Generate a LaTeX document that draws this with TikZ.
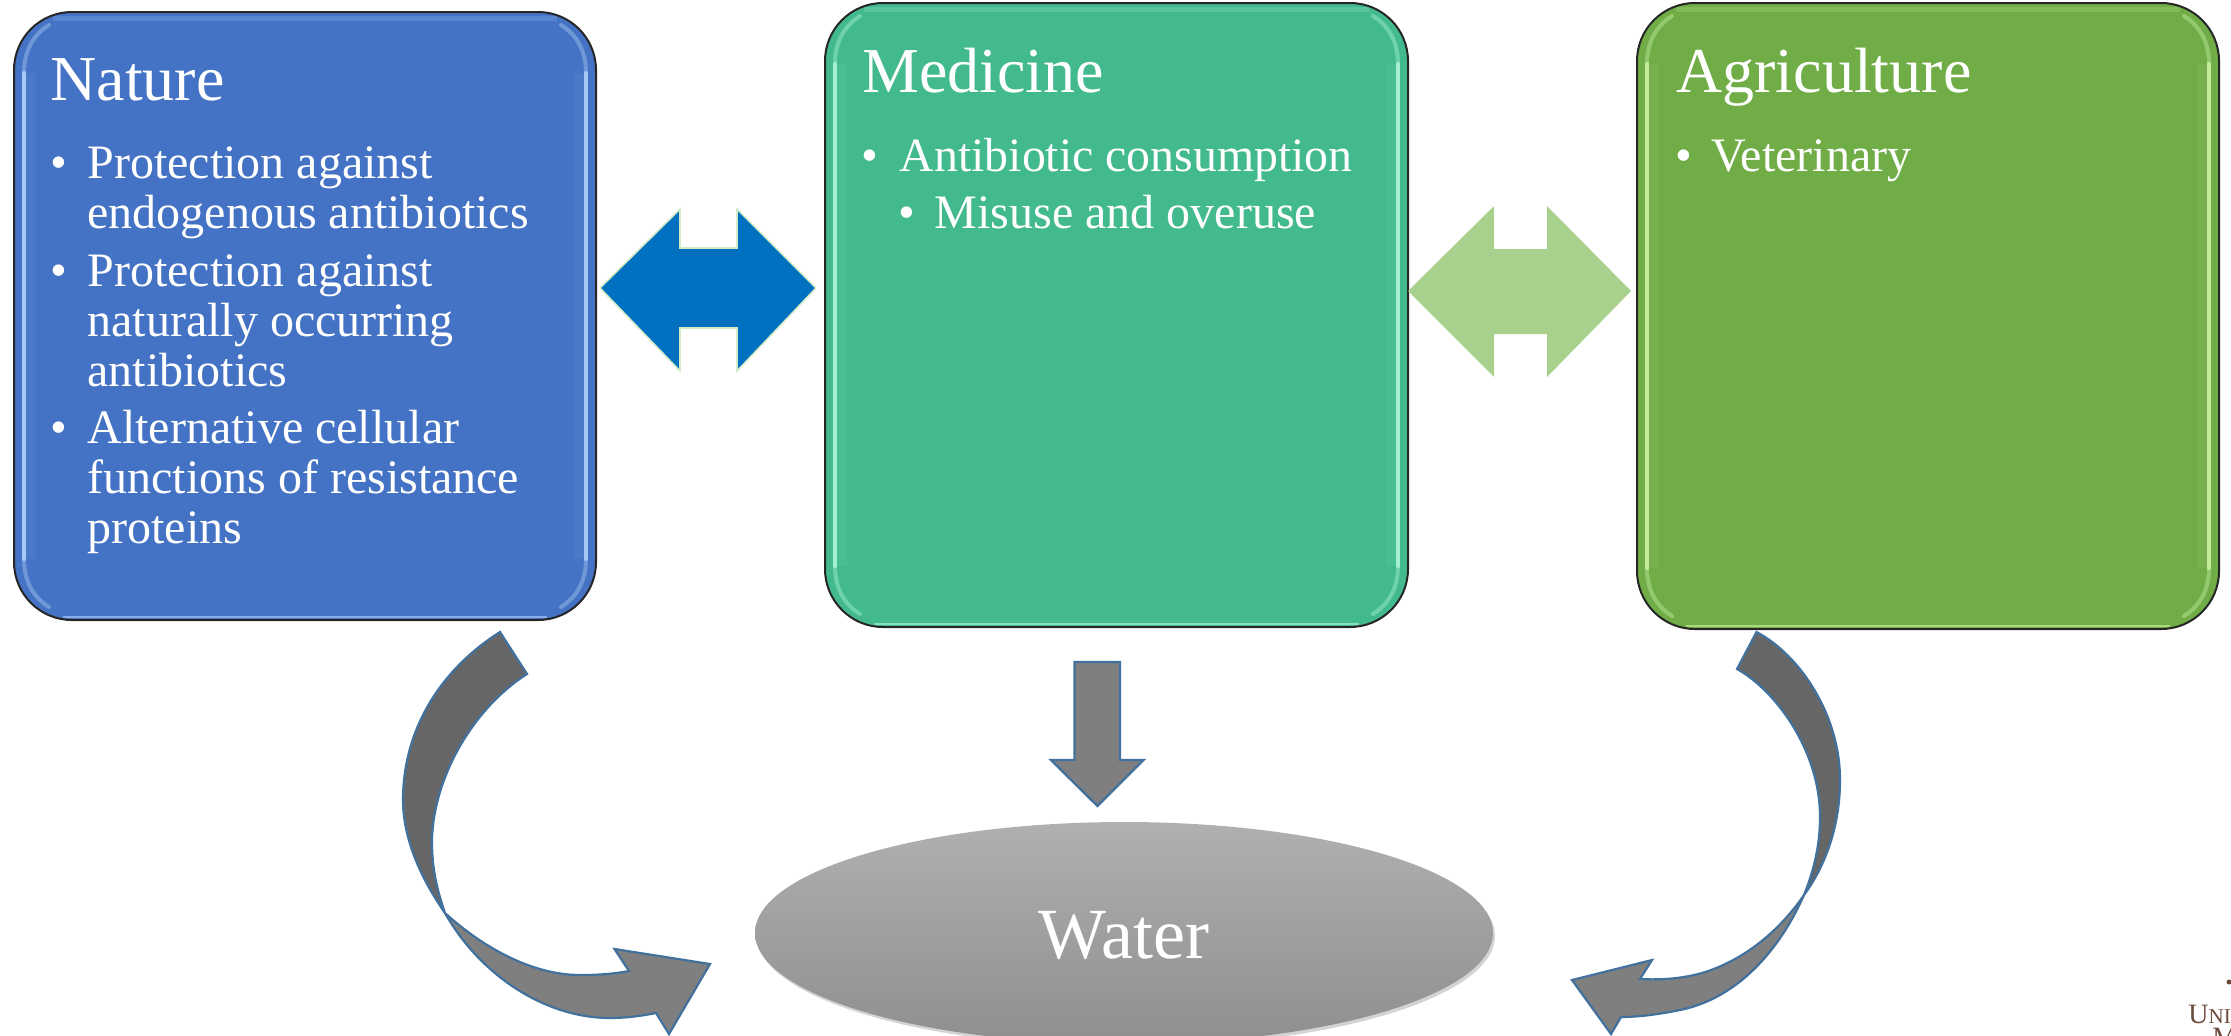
\documentclass[tikz,border=0pt]{standalone}
\usepackage{fontspec}
\setmainfont{Liberation Serif}
\usetikzlibrary{calc,shadows}
\definecolor{natureblue}{HTML}{4472C4}
\definecolor{naturelight}{HTML}{A6C8F4}
\definecolor{medgreen}{HTML}{43BA8E}
\definecolor{medlight}{HTML}{A4F0D4}
\definecolor{agrigreen}{HTML}{70AD47}
\definecolor{agrilight}{HTML}{C4EC9C}
\definecolor{linkblue}{HTML}{0070C0}
\definecolor{linkgreen}{HTML}{A9D18E}
\definecolor{linkedge}{HTML}{D5EBC8}
\definecolor{arrowedge}{HTML}{41719C}
\definecolor{arrowdark}{HTML}{666666}
\definecolor{arrowmid}{HTML}{7F7F7F}
\definecolor{logobrown}{HTML}{6B4A3A}
\tikzset{
  cardbox/.style={rectangle,rounded corners=29pt,draw=black!85,line width=1pt,inner sep=0pt},
  cardtitle/.style={anchor=base west,inner sep=0pt,text=white,font=\fontsize{32}{36}\selectfont},
  carditem/.style={anchor=base west,inner sep=0pt,text=white,align=left,font=\fontsize{24}{25}\selectfont},
  blockarrow/.style={draw=arrowedge,line width=1.2pt,line join=miter,fill=arrowmid},
  curvedark/.style={draw=arrowedge,line width=1.1pt,fill=arrowdark,line join=miter},
  curvemid/.style={draw=arrowedge,line width=1.1pt,fill=arrowmid,line join=miter},
}
\newcommand{\cardbevel}[2]{%
  \draw[#2,line width=2pt,line cap=round] ($(#1.north west)+(11,62)$) -- ($(#1.south west)+(11,-62)$);
  \draw[#2,line width=2pt,line cap=round] ($(#1.north east)+(-11,62)$) -- ($(#1.south east)+(-11,-62)$);
  \draw[#2,line width=5pt,opacity=.08] ($(#1.north west)+(18,62)$) -- ($(#1.south west)+(18,-62)$);
  \draw[#2,line width=5pt,opacity=.08] ($(#1.north east)+(-18,62)$) -- ($(#1.south east)+(-18,-62)$);
  \draw[#2,line width=2pt,opacity=.45,line cap=round] ($(#1.north west)+(11,62)$) .. controls ($(#1.north west)+(11,40)$) and ($(#1.north west)+(20,24)$) .. ($(#1.north west)+(36,14)$);
  \draw[#2,line width=2pt,opacity=.45,line cap=round] ($(#1.north east)+(-11,62)$) .. controls ($(#1.north east)+(-11,40)$) and ($(#1.north east)+(-20,24)$) .. ($(#1.north east)+(-36,14)$);
  \draw[#2,line width=2pt,opacity=.45,line cap=round] ($(#1.south west)+(11,-62)$) .. controls ($(#1.south west)+(11,-40)$) and ($(#1.south west)+(20,-24)$) .. ($(#1.south west)+(36,-14)$);
  \draw[#2,line width=2pt,opacity=.45,line cap=round] ($(#1.south east)+(-11,-62)$) .. controls ($(#1.south east)+(-11,-40)$) and ($(#1.south east)+(-20,-24)$) .. ($(#1.south east)+(-36,-14)$);
  \draw[#2,line width=2.5pt,opacity=.22] ($(#1.north west)+(40,7)$) -- ($(#1.north east)+(-40,7)$);
  \draw[#2,line width=1.2pt,opacity=.7] ($(#1.south west)+(50,-4)$) -- ($(#1.south east)+(-50,-4)$);
}
\begin{document}
\begin{tikzpicture}[x=0.5pt,y=-0.5pt]
\path[use as bounding box] (0,0) rectangle (2231,1035);
\clip (0,0) rectangle (2231,1035);

% cards
\node[cardbox,fill=natureblue,minimum width=291pt,minimum height=304pt] (nature) at (305,316) {};
\node[cardbox,fill=medgreen,minimum width=291.5pt,minimum height=312pt] (medicine) at (1116.5,315) {};
\node[cardbox,fill=agrigreen,minimum width=291pt,minimum height=313pt] (agriculture) at (1928,316) {};
\cardbevel{nature}{naturelight}
\cardbevel{medicine}{medlight}
\cardbevel{agriculture}{agrilight}

% Nature text (a node's base is the baseline of its last line)
\node[cardtitle] (natureT) at (50,100) {Nature};
\node[carditem] (nb1) at (50.5,178) {•};
\node[carditem] (ni1) at (87,228) {Protection against\\endogenous antibiotics};
\node[carditem] (nb2) at (50.5,286) {•};
\node[carditem] (ni2) at (87,386) {Protection against\\naturally occurring\\antibiotics};
\node[carditem] (nb3) at (50.5,443) {•};
\node[carditem] (ni3) at (87,543) {Alternative cellular\\functions of resistance\\proteins};

% Medicine text
\node[cardtitle] (medT) at (862,92) {Medicine};
\node[carditem] (mb1) at (861.5,171) {•};
\node[carditem] (mi1) at (899.5,171) {\fontsize{23.9}{25}\selectfont Antibiotic consumption};
\node[carditem] (mb2) at (898,228.5) {•};
\node[carditem] (mi2) at (934.5,228.5) {Misuse and overuse};

% Agriculture text
\node[cardtitle] (agriT) at (1676,92) {Agriculture};
\node[carditem] (ab1) at (1675,171) {•};
\node[carditem] (ai1) at (1711,171) {Veterinary};

% double arrows between the cards
\path[fill=linkblue,draw=linkedge,line width=.8pt,line join=miter]
  (600,288) -- (680,209) -- (680,248) -- (737,248) -- (737,209) -- (816,288)
  -- (737,371) -- (737,328) -- (680,328) -- (680,371) -- cycle;
\path[fill=linkgreen]
  (1408,291) -- (1494,206) -- (1494,249) -- (1547,249) -- (1547,206) -- (1631,291)
  -- (1547,377) -- (1547,334) -- (1494,334) -- (1494,377) -- cycle;

% water
\shade[top color=black!31,bottom color=black!44,drop shadow={shadow xshift=1pt,shadow yshift=-1.5pt,opacity=.35}]
  (1124,933) ellipse [x radius=369,y radius=111];
\node[anchor=base,inner sep=0pt,text=white,font=\fontsize{36}{40}\selectfont] (water) at (1124,958) {Water};

% straight arrow
\path[blockarrow] (1074.5,662) -- (1120,662) -- (1120,760) -- (1143.5,760)
  -- (1097.5,806) -- (1051,760) -- (1074.5,760) -- cycle;

% left curved arrow
\path[curvemid] (445,913) .. controls (480,975) and (545,1018) .. (610,1018)
  .. controls (626,1018) and (641,1016) .. (656,1013)
  -- (669,1034) -- (710,964) -- (614.5,949) -- (629,971)
  .. controls (613,974) and (597,975) .. (580,975)
  .. controls (530,975) and (480,945) .. (445,913) -- cycle;
\path[curvedark] (500,632) .. controls (440,670) and (403,730) .. (403,800)
  .. controls (403,840) and (422,880) .. (445,913)
  .. controls (438,893) and (432,870) .. (432,843)
  .. controls (432,780) and (472,709) .. (527,674) -- cycle;

% right curved arrow
\path[curvemid] (1804,895) .. controls (1775,960) and (1730,1000) .. (1680,1010)
  .. controls (1660,1014) and (1640,1017) .. (1621,1017)
  -- (1611,1034) -- (1572,980) -- (1652,960) -- (1640,979)
  .. controls (1660,980) and (1680,979) .. (1702,973)
  .. controls (1745,960) and (1780,930) .. (1804,895) -- cycle;
\path[curvedark] (1756.5,632) .. controls (1800,655) and (1840,715) .. (1840,780)
  .. controls (1840,825) and (1826,865) .. (1804,895)
  .. controls (1814,870) and (1820,845) .. (1820,817)
  .. controls (1820,750) and (1775,690) .. (1737,669) -- cycle;

% logo fragment at the corner
\fill[logobrown] (2229,982) circle (2.5);
\node[anchor=base west,inner sep=0pt,text=logobrown,font=\fontsize{14}{16}\selectfont] (logoA) at (2188,1023) {U{\fontsize{10.5}{12}\selectfont NI}};
\node[anchor=base west,inner sep=0pt,text=logobrown,font=\fontsize{14}{16}\selectfont] (logoB) at (2212,1046) {M};
\end{tikzpicture}
\end{document}
